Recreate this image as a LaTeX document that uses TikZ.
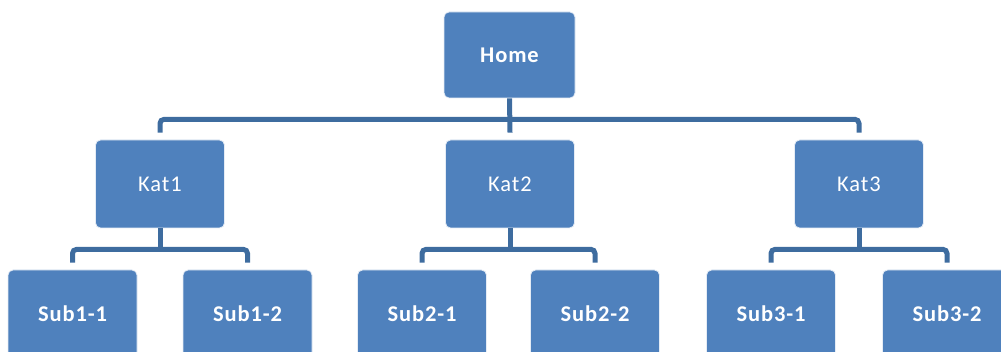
\documentclass[tikz,border=0pt]{standalone}
\usepackage{fontspec}
\setmainfont{Carlito}
\newfontfamily\boxfont[LetterSpace=4]{Carlito}
\definecolor{boxblue}{HTML}{4F81BD}
\definecolor{lineblue}{HTML}{3E6C9F}
\tikzset{
  box/.style={rectangle, rounded corners=5pt, fill=boxblue, draw=white!85!boxblue, line width=0.8pt,
    minimum width=129pt, minimum height=87pt, inner sep=0pt, text=white,
    font=\boxfont\fontsize{22.5}{26}\selectfont\bfseries},
  katbox/.style={box, minimum height=88pt, font=\boxfont\fontsize{22.5}{26}\selectfont},
  conn/.style={draw=lineblue, line width=5pt},
}
\begin{document}
\begin{tikzpicture}[x=1pt,y=-1pt]
\useasboundingbox (0,0) rectangle (1001,352);
\clip (0,0) rectangle (1001,352);
\node[box, minimum width=131pt, minimum height=86pt] (home) at (509.5,55) {Home};
\node[katbox] (kat1) at (160,184) {Kat1};
\node[katbox] (kat2) at (510,184) {Kat2};
\node[katbox] (kat3) at (859,184) {Kat3};
\node[box] (s11) at (72.5,313.5) {Sub1-1};
\node[box] (s12) at (247.5,313.5) {Sub1-2};
\node[box] (s21) at (422,313.5) {Sub2-1};
\node[box] (s22) at (595,313.5) {Sub2-2};
\node[box] (s31) at (771,313.5) {Sub3-1};
\node[box] (s32) at (947,313.5) {Sub3-2};
% level 1
\draw[conn] (home.south) -- ([yshift=7pt]kat2.north);
\draw[conn, rounded corners=4pt] ([yshift=7pt]kat1.north) |- ([yshift=-21pt]home.south) -| ([yshift=7pt]kat3.north);
% level 2
\foreach \k/\a/\b in {kat1/s11/s12, kat2/s21/s22, kat3/s31/s32}{
  \draw[conn] (\k.south) -- ([yshift=-21pt]\k.south);
  \draw[conn, rounded corners=4pt] ([yshift=7pt]\a.north) |- ([yshift=-21pt]\k.south) -| ([yshift=7pt]\b.north);
}
\end{tikzpicture}
\end{document}
